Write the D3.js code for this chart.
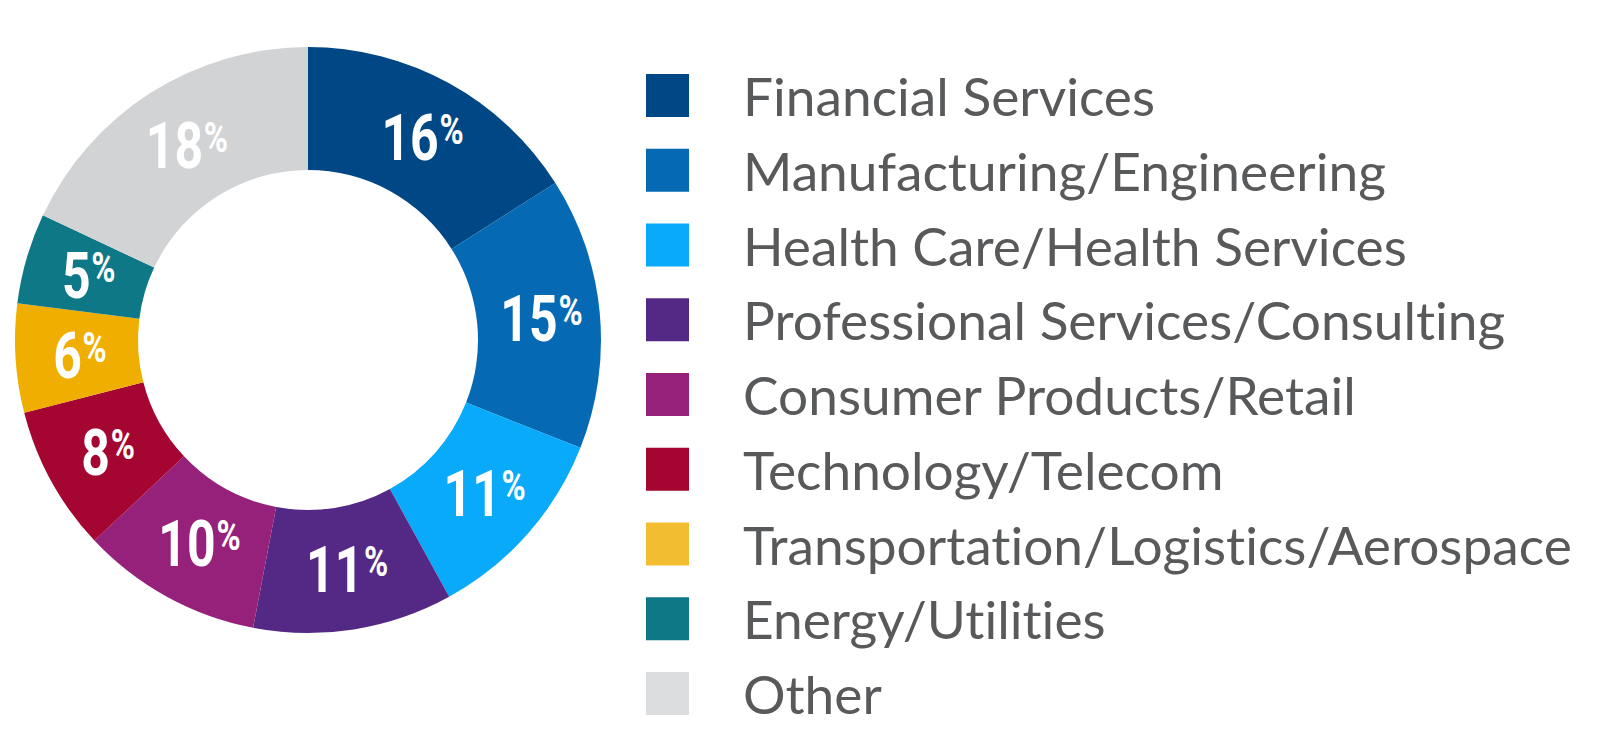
<!DOCTYPE html>
<html>
<head>
<meta charset="utf-8">
<script src="https://cdn.jsdelivr.net/npm/d3@7"></script>
<style>
  html, body { margin: 0; padding: 0; background: #fff; }
  svg { display: block; }
</style>
</head>
<body>
<svg id="chart" width="1600" height="755"></svg>
<script>
// Industry shares (percent), clockwise from 12 o'clock
const categories = [
    "Financial Services",
    "Manufacturing/Engineering",
    "Health Care/Health Services",
    "Professional Services/Consulting",
    "Consumer Products/Retail",
    "Technology/Telecom",
    "Transportation/Logistics/Aerospace",
    "Energy/Utilities",
    "Other"
];
const shares = [16, 15, 11, 11, 10, 8, 6, 5, 18];
const sliceColors = ["#004785", "#0569b3", "#08aaf9", "#532985", "#96217a", "#a50631", "#f0ae00", "#0e7887", "#d1d3d4"];
const legendColors = ["#004785", "#0569b3", "#08aaf9", "#532985", "#96217a", "#a50631", "#f2bd30", "#0e7887", "#dcdddf"];

const svg = d3.select("#chart");

// Donut geometry
const cx = 308, cy = 340;
const outerR = 293, innerR = 170;

const pie = d3.pie().sort(null).value(d => d);
const arc = d3.arc().innerRadius(innerR).outerRadius(outerR);
const arcs = pie(shares);

const donut = svg.append("g").attr("transform", `translate(${cx},${cy})`);

donut.selectAll("path.slice")
    .data(arcs)
    .enter()
    .append("path")
    .attr("class", "slice")
    .attr("d", arc)
    .attr("fill", (d, i) => sliceColors[i]);

// Percentage labels: condensed bold number with a raised smaller "%"
const labels = donut.selectAll("g.lbl")
    .data(arcs)
    .enter()
    .append("g")
    .attr("class", "lbl")
    .attr("transform", d => {
        const [x, y] = arc.centroid(d);
        return `translate(${x + 3},${y}) scale(0.78,1)`;
    });

const lblText = labels.append("text")
    .attr("text-anchor", "middle")
    .attr("y", 23)
    .style("font-family", "Roboto, 'Liberation Sans', sans-serif")
    .style("font-weight", "700")
    .style("fill", "#fff");

lblText.append("tspan")
    .style("font-size", "64px")
    .text(d => d.data);

lblText.append("tspan")
    .style("font-size", "42px")
    .attr("dx", 1)
    .attr("dy", -16)
    .text("%");

// Legend
const legendX = 646, legendY = 74, rowStep = 74.75, box = 43;
const textX = 743;

const legend = svg.append("g");

const rows = legend.selectAll("g.row")
    .data(categories)
    .enter()
    .append("g")
    .attr("class", "row")
    .attr("transform", (d, i) => `translate(0,${legendY + i * rowStep})`);

rows.append("rect")
    .attr("x", legendX)
    .attr("y", 0)
    .attr("width", box)
    .attr("height", box)
    .attr("fill", (d, i) => legendColors[i]);

const legendText = rows.append("text")
    .attr("x", 0)
    .attr("y", box - 1)
    .style("font-family", "Lato, 'Open Sans', sans-serif")
    .style("font-size", "53px")
    .style("font-variant-ligatures", "none")
    .style("font-feature-settings", "'liga' 0, 'clig' 0, 'dlig' 0")
    .style("fill", "#58595b")
    .text(d => d);

// squeeze the labels so the longest one ends where it does in the original
const widest = d3.max(legendText.nodes(), n => n.getComputedTextLength());
const squeeze = 829 / widest;
legendText.attr("transform", `translate(${textX},0) scale(${squeeze},1)`);
</script>
</body>
</html>
